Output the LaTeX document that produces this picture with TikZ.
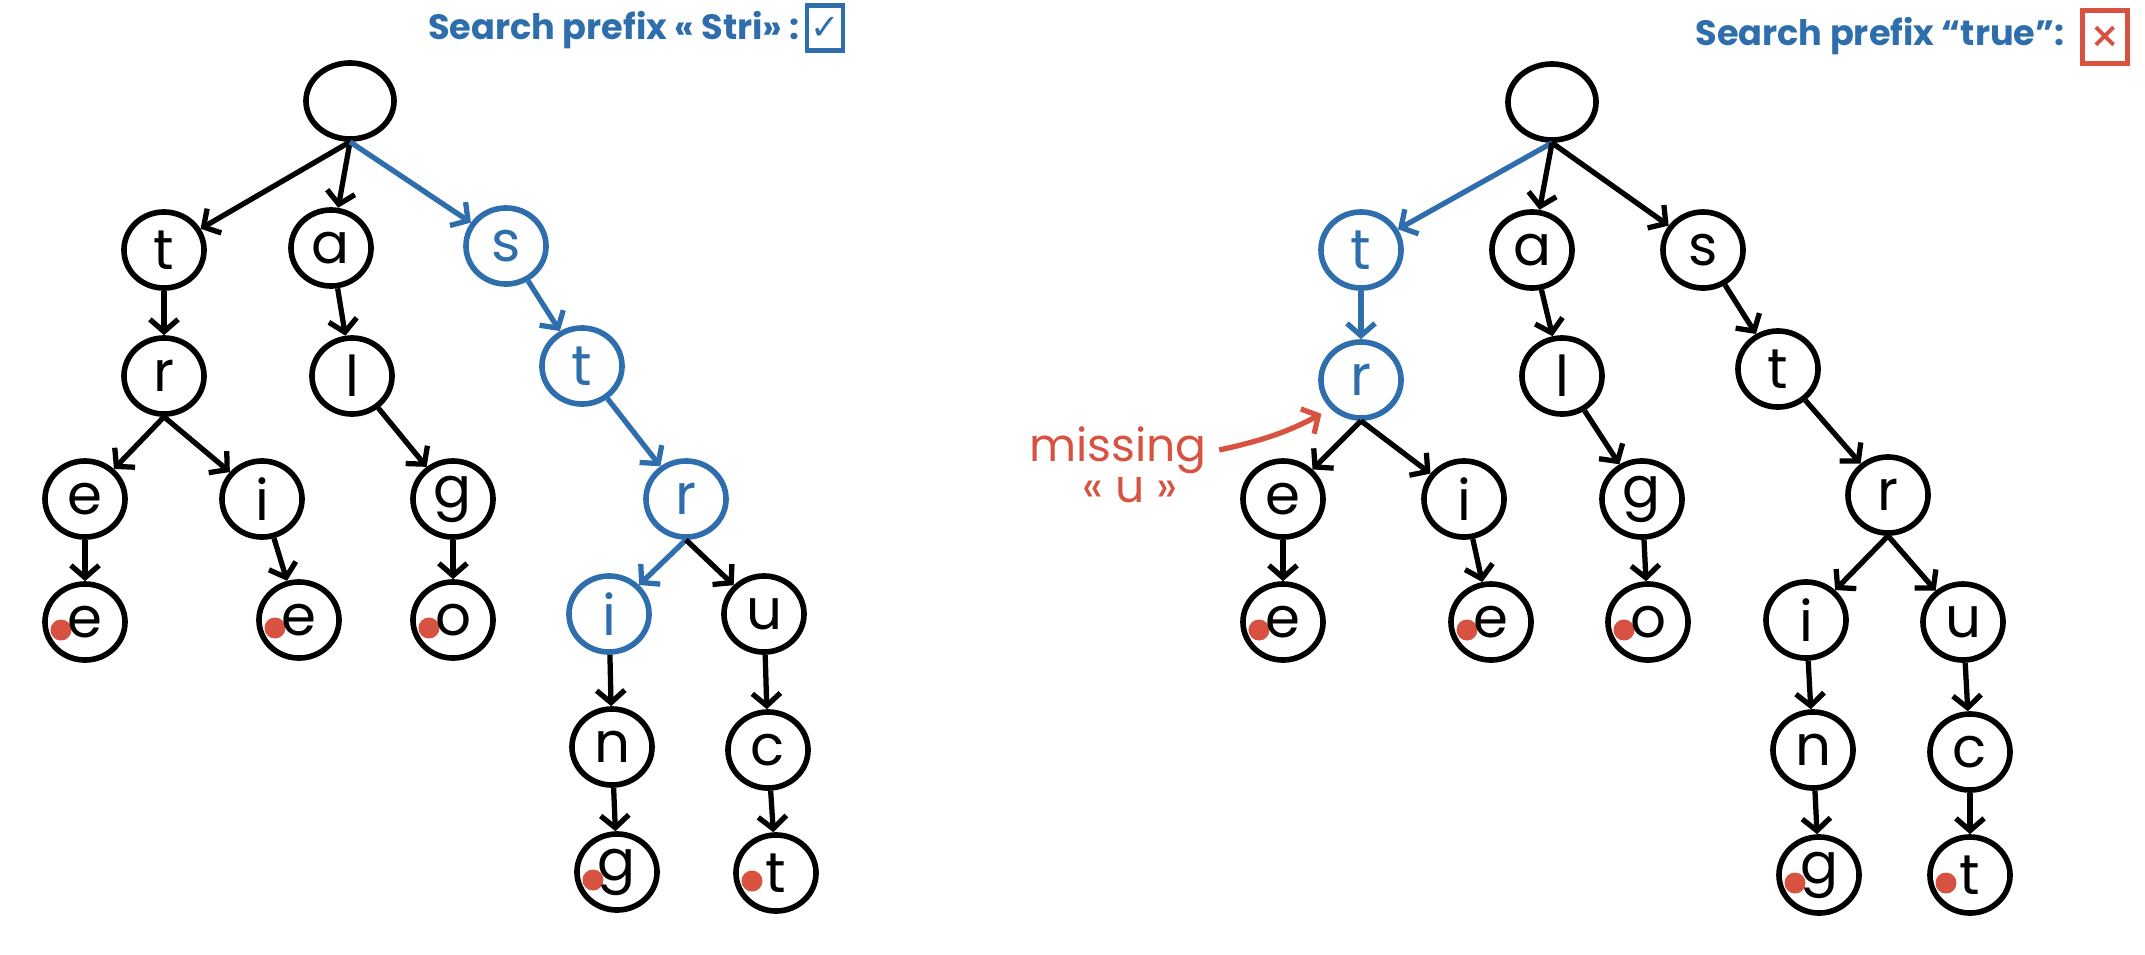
\documentclass[tikz,border=0pt]{standalone}
\usepackage{fontspec}
\setmainfont{Poppins}
\newfontfamily\symfont{DejaVu Sans}
\usetikzlibrary{shapes.geometric, arrows.meta}

\definecolor{pathblue}{RGB}{46,110,172}
\definecolor{markred}{RGB}{215,82,64}

\tikzset{
  letter/.style={ellipse, draw, line width=1.6pt, minimum width=0.8cm, minimum height=0.76cm,
    inner sep=0pt, font=\fontsize{16}{16}\selectfont},
  rootnode/.style={letter, minimum width=0.88cm},
  wordend/.style={letter, path picture={\fill[markred]
    ([xshift=-0.24cm,yshift=-0.08cm]path picture bounding box.center) circle (0.105cm);}},
  hit/.style={draw=pathblue, text=pathblue},
  link/.style={-{Straight Barb[length=3.5pt,width=8pt]}, line width=1.5pt},
  hitlink/.style={link, draw=pathblue},
  caption/.style={text=pathblue, font=\bfseries\fontsize{10}{12}\selectfont},
  verdict/.style={draw, line width=1.4pt, inner sep=0pt, minimum width=0.36cm, minimum height=0.45cm},
  remark/.style={text=markred, font=\fontsize{13}{14}\selectfont},
}

\begin{document}
\begin{tikzpicture}[x=0.01cm, y=-0.01cm]

\useasboundingbox (0,0) rectangle (2145,954);

% left trie, prefix found
\node[caption] (Lq) at (614,30) {Search prefix « Stri» :};
\node[verdict, draw=pathblue, text=pathblue] (Lok) at (825,28) {\symfont\bfseries ✓};

\node[rootnode] (Lroot) at (350,101) {};
\node[letter] (Lt) at (164,250) {t};
\node[letter] (La) at (331,248) {a};
\node[letter, hit] (Ls) at (506,246) {s};
\node[letter] (Lr) at (164,376) {r};
\node[letter] (Ll) at (352,376) {l};
\node[letter, hit] (Lst) at (582,366) {t};
\node[letter] (Le) at (85,499) {e};
\node[letter] (Li) at (262,499) {i};
\node[letter] (Lg) at (453,499) {g};
\node[letter, hit] (Lstr) at (686,499) {r};
\node[wordend] (Lee) at (85,622) {e};
\node[wordend] (Lie) at (299,620) {e};
\node[wordend] (Lgo) at (453,620) {o};
\node[letter, hit] (Lstri) at (609,614) {i};
\node[letter] (Lu) at (764,614) {u};
\node[letter] (Ln) at (612,747) {n};
\node[letter] (Lc) at (768,750) {c};
\node[wordend] (Lng) at (617,872) {g};
\node[wordend] (Lct) at (776,873) {t};

\draw[link] (Lroot.south) -- (Lt);
\draw[link] (Lroot.south) -- (La);
\draw[hitlink] (Lroot.south) -- (Ls);
\draw[link] (Lt) -- (Lr);
\draw[link] (La) -- (Ll);
\draw[hitlink] (Ls) -- (Lst);
\draw[link] (Lr.south) -- (Le);
\draw[link] (Lr.south) -- (Li);
\draw[link] (Ll) -- (Lg);
\draw[hitlink] (Lst) -- (Lstr);
\draw[link] (Le) -- (Lee);
\draw[link] (Li) -- (Lie);
\draw[link] (Lg) -- (Lgo);
\draw[hitlink] (Lstr.south) -- (Lstri);
\draw[link] (Lstr.south) -- (Lu);
\draw[link] (Lstri) -- (Ln);
\draw[link] (Lu) -- (Lc);
\draw[link] (Ln) -- (Lng);
\draw[link] (Lc) -- (Lct);

% right trie, prefix not found
\node[caption] (Rq) at (1880,36) {Search prefix “true”:};
\node[verdict, draw=markred, text=markred, minimum width=0.45cm, minimum height=0.53cm] (Rno) at (2105,37) {\symfont\bfseries ×};

\node[rootnode] (Rroot) at (1552,102) {};
\node[letter, hit] (Rt) at (1361,250) {t};
\node[letter] (Ra) at (1532,250) {a};
\node[letter] (Rs) at (1703,250) {s};
\node[letter, hit] (Rr) at (1361,380) {r};
\node[letter] (Rl) at (1562,376) {l};
\node[letter] (Rst) at (1778,369) {t};
\node[letter] (Re) at (1283,499) {e};
\node[letter] (Ri) at (1464,499) {i};
\node[letter] (Rg) at (1642,499) {g};
\node[letter] (Rstr) at (1888,495) {r};
\node[wordend] (Ree) at (1283,622) {e};
\node[wordend] (Rie) at (1491,622) {e};
\node[wordend] (Rgo) at (1648,622) {o};
\node[letter] (Rstri) at (1806,620) {i};
\node[letter] (Ru) at (1963,622) {u};
\node[letter] (Rn) at (1813,750) {n};
\node[letter] (Rc) at (1970,752) {c};
\node[wordend] (Rng) at (1819,875) {g};
\node[wordend] (Rct) at (1970,875) {t};

\draw[hitlink] (Rroot.south) -- (Rt);
\draw[link] (Rroot.south) -- (Ra);
\draw[link] (Rroot.south) -- (Rs);
\draw[hitlink] (Rt) -- (Rr);
\draw[link] (Ra) -- (Rl);
\draw[link] (Rs) -- (Rst);
\draw[link] (Rr.south) -- (Re);
\draw[link] (Rr.south) -- (Ri);
\draw[link] (Rl) -- (Rg);
\draw[link] (Rst) -- (Rstr);
\draw[link] (Re) -- (Ree);
\draw[link] (Ri) -- (Rie);
\draw[link] (Rg) -- (Rgo);
\draw[link] (Rstr.south) -- (Rstri);
\draw[link] (Rstr.south) -- (Ru);
\draw[link] (Rstri) -- (Rn);
\draw[link] (Ru) -- (Rc);
\draw[link] (Rn) -- (Rng);
\draw[link] (Rc) -- (Rct);

% where the search stops
\node[remark] (miss) at (1118,450) {missing};
\node[remark] (missu) at (1130,490) {« u »};
\draw[link, draw=markred, shorten >=3pt] (miss.east) to[bend right=8] (Rr.south west);

\end{tikzpicture}
\end{document}
